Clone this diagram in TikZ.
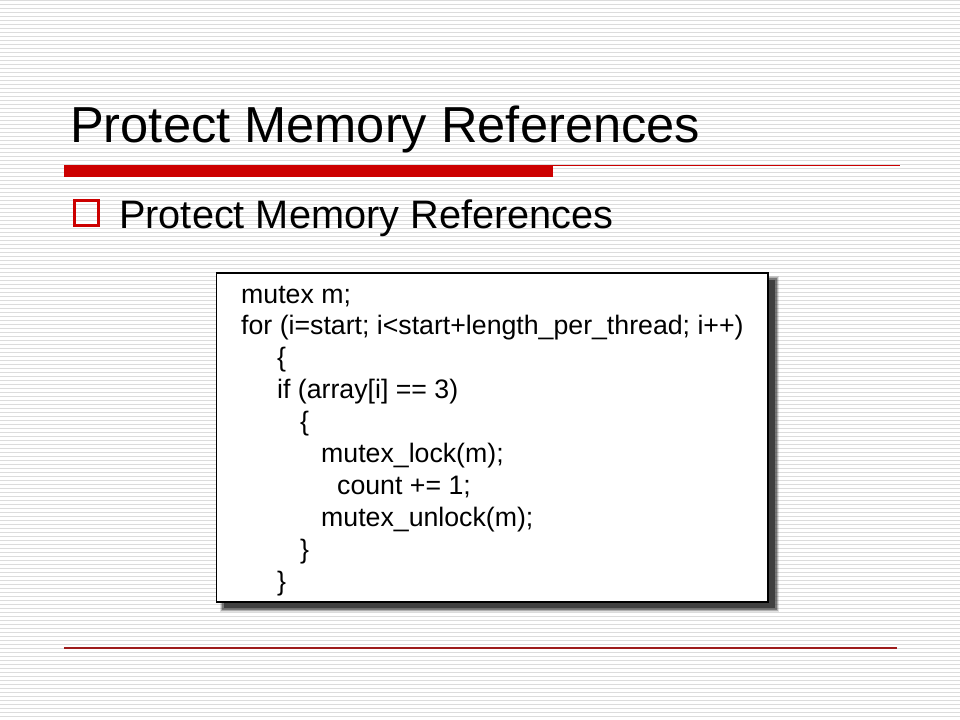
\documentclass[tikz,border=0pt]{standalone}
\usepackage{fontspec}
\setmainfont{Liberation Sans}
\definecolor{slidered}{HTML}{CC0000}
\definecolor{footred}{HTML}{9E1C1C}
\definecolor{paperrule}{HTML}{DCDCDC}
\definecolor{shadowgray}{HTML}{404040}
\tikzset{
  codeline/.style={anchor=base west, inner sep=0pt, font=\fontsize{26.7bp}{30bp}\selectfont},
  slidetext/.style={anchor=base west, inner sep=0pt}
}
\begin{document}
\begin{tikzpicture}[x=1bp,y=-1bp]
        \useasboundingbox (0,0) rectangle (960,720);
        \fill[white] (0,0) rectangle (960,720);
        \foreach \y in {0,4,...,716}{
          \draw[paperrule, line width=1bp] (0,\y+0.5) -- (960,\y+0.5);
        }
        % title and rules
        \node[slidetext, font=\fontsize{50.6bp}{60bp}\selectfont] (title) at (70,143) {Protect Memory References};
        \fill[slidered] (64,165.5) rectangle (553,176.5);
        \draw[slidered, line width=1bp] (553,165.5) -- (900,165.5);
        \draw[slidered, line width=3bp] (74.5,200.5) rectangle (98.5,225.5);
        \node[slidetext, font=\fontsize{39.7bp}{46bp}\selectfont] (bullet) at (119,228) {Protect Memory References};
        % code box
        \foreach \d/\o in {3/.15,2/.3,1/.5}{
          \fill[shadowgray, opacity=\o] (223-\d,279-\d) rectangle (776+\d,609+\d);
        }
        \fill[shadowgray] (224,280) rectangle (775,608);
        \draw[black, fill=white, line width=1.5bp] (216.5,273) rectangle (768,602);
        \node[codeline] (l1) at (241,303) {mutex m;};
        \node[codeline] (l2) at (241,334.9) {for (i=start; i<start+length\_per\_thread; i++)};
        \node[codeline] (l3) at (277,366.8) {\{};
        \node[codeline] (l4) at (277,398.7) {if (array[i] == 3)};
        \node[codeline] (l5) at (300,430.6) {\{};
        \node[codeline] (l6) at (321,462.5) {mutex\_lock(m);};
        \node[codeline] (l7) at (337,494.4) {count += 1;};
        \node[codeline] (l8) at (321,526.3) {mutex\_unlock(m);};
        \node[codeline] (l9) at (300,558.2) {\}};
        \node[codeline] (l10) at (277,590.1) {\}};
        % footer rule
        \draw[footred, line width=1.5bp] (64,648) -- (897,648);

      \end{tikzpicture}
\end{document}
